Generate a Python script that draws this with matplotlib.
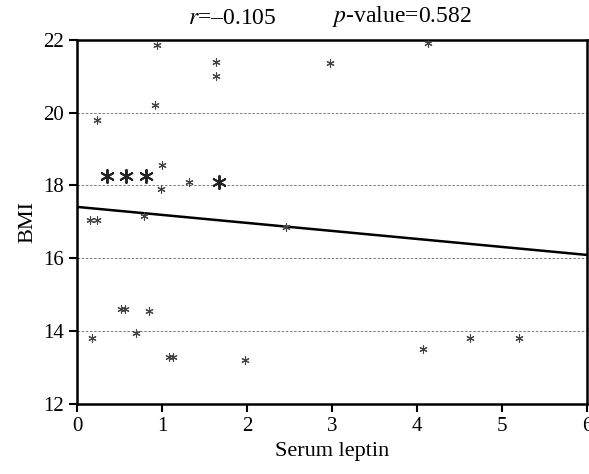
import matplotlib
matplotlib.use('Agg')
from matplotlib import pyplot as plt

# valores (leptina sérica x IMC)
leptina = [0.23, 0.94, 0.92, 1.63, 1.63, 1.00, 0.99, 1.31, 0.15, 0.23, 0.79,
           2.46, 4.13, 2.98, 4.07, 4.62, 5.20, 0.18, 0.51, 0.56, 0.85, 0.69,
           1.08, 1.13, 1.97]
imc = [19.8, 21.85, 20.2, 21.4, 21.0, 18.55, 17.9, 18.1, 17.05, 17.05, 17.15,
       16.85, 21.9, 21.35, 13.5, 13.8, 13.8, 13.8, 14.6, 14.6, 14.55, 13.95,
       13.3, 13.3, 13.2]

# asteriscos maiores (pontos sobrepostos)
leptina_grande = [0.35, 0.58, 0.81, 1.67]
imc_grande = [18.25, 18.25, 18.25, 18.1]

# reta de regressão
intercepto = 17.41
inclinacao = -0.22

plt.rcParams['font.family'] = ['Liberation Serif', 'DejaVu Serif']
plt.rcParams['mathtext.fontset'] = 'stix'

fig = plt.figure(figsize=(5.89, 4.74), dpi=100)
ax = fig.add_axes([0.131, 0.148, 0.866, 0.768])

# linhas tracejadas de referência
for y in [14, 16, 18, 20]:
    ax.axhline(y, color='#666666', linestyle=(0, (3, 2)), linewidth=0.6, zorder=1)

ax.scatter(leptina, imc, marker=(6, 2, 0), s=28, color='#444444', linewidths=0.8, zorder=3)
ax.scatter(leptina_grande, imc_grande, marker=(6, 2, 0), s=90, color='#222222', linewidths=1.4, zorder=3)

xs = [0, 6]
ax.plot(xs, [intercepto + inclinacao * x for x in xs], color='black', linewidth=1.8, zorder=2)

ax.set_xlim(0, 6)
ax.set_ylim(12, 22)
ax.set_xticks(range(0, 7))
ax.set_yticks(range(12, 23, 2))
ax.tick_params(direction='out', length=6, width=1.5, labelsize=15)
for s in ax.spines.values():
    s.set_linewidth(1.8)

ax.set_xlabel('Serum leptin', fontsize=16, labelpad=4)
ax.set_ylabel('BMI', fontsize=16, labelpad=4)

ax.text(0.305, 1.03, r'$r$=–0.105', transform=ax.transAxes, ha='center', va='bottom', fontsize=17)
ax.text(0.636, 1.03, r'$p$-value=0.582', transform=ax.transAxes, ha='center', va='bottom', fontsize=17)

fig.savefig('out.png', dpi=100)
